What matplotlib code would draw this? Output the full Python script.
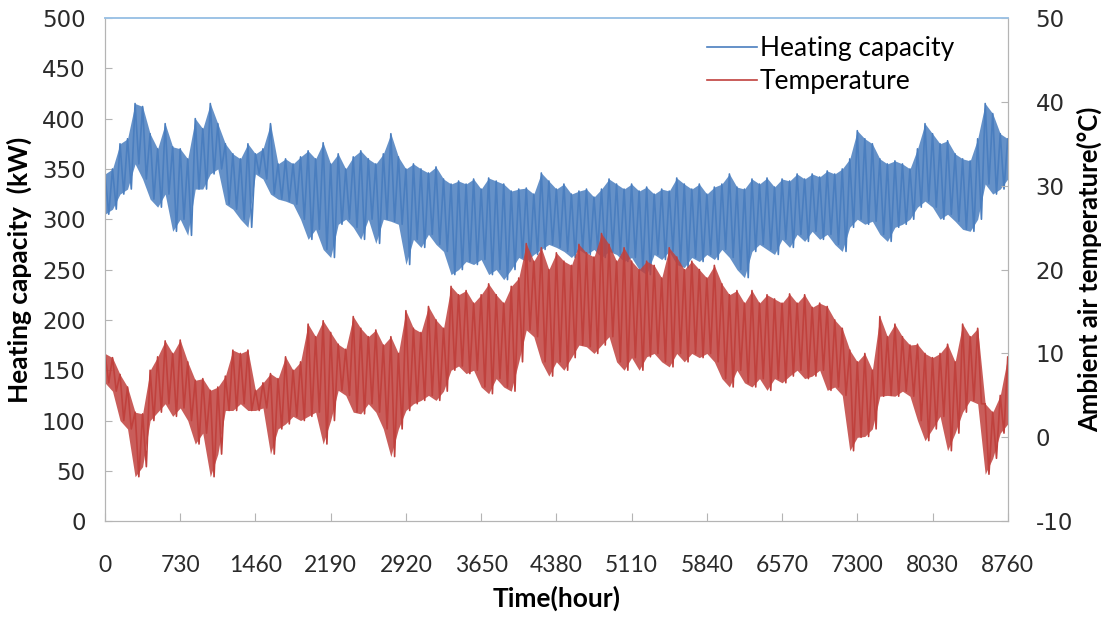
import numpy as np
import matplotlib.pyplot as plt

# sample hours (every 73 h) with the upper / lower envelope
hours = np.arange(0, 8761, 73)

cap_hi = [345, 350, 375, 380, 415, 412, 385, 370, 395, 372,
          370, 360, 400, 390, 415, 395, 375, 365, 360, 375,
          365, 370, 395, 355, 360, 355, 362, 368, 360, 376,
          355, 365, 350, 362, 368, 360, 355, 365, 385, 362,
          350, 355, 350, 346, 352, 340, 335, 338, 335, 340,
          330, 341, 338, 335, 328, 330, 331, 325, 346, 338,
          330, 335, 325, 328, 330, 322, 330, 340, 335, 330,
          335, 328, 332, 325, 330, 328, 341, 335, 330, 335,
          325, 332, 335, 345, 332, 330, 340, 335, 341, 332,
          340, 338, 345, 340, 345, 342, 348, 345, 350, 360,
          388, 380, 375, 360, 355, 358, 355, 350, 370, 395,
          385, 375, 378, 365, 360, 358, 380, 415, 405, 385, 380]
cap_lo = [305, 310, 325, 330, 355, 340, 320, 312, 325, 288,
          300, 284, 330, 330, 345, 350, 315, 310, 300, 292,
          345, 340, 325, 320, 318, 315, 300, 280, 290, 270,
          262, 295, 300, 292, 280, 300, 276, 300, 298, 295,
          255, 280, 272, 285, 275, 268, 245, 250, 258, 255,
          260, 245, 250, 240, 250, 262, 258, 265, 270, 275,
          272, 268, 262, 270, 265, 270, 262, 268, 265, 258,
          262, 250, 245, 265, 260, 268, 255, 252, 262, 258,
          265, 260, 270, 262, 250, 242, 268, 275, 270, 265,
          280, 272, 285, 278, 288, 280, 285, 275, 268, 292,
          300, 295, 298, 285, 278, 292, 295, 300, 312, 318,
          312, 300, 305, 298, 290, 288, 300, 335, 325, 330, 340]

temp_hi = [10, 9.5, 7.5, 6, 3, 2.8, 8, 9.6, 11.5, 10,
           11.6, 9, 6.8, 7, 5.6, 6, 7.3, 10.4, 10, 10.4,
           5.6, 6.5, 7.6, 7, 9.6, 8, 9, 13.5, 12, 13.9,
           12.5, 11.1, 10.5, 14.4, 13, 12, 12.8, 11, 12, 10,
           15.1, 13, 12.5, 15.6, 14, 13, 18, 17, 17.5, 16,
           17, 18.3, 17, 16, 18, 19, 23.1, 21, 22.6, 20,
           22, 21, 20.5, 23, 22, 21.5, 24.3, 23, 21, 22.6,
           21, 20, 21, 20.5, 19, 22.6, 21.5, 20, 21, 20,
           19, 20.5, 18.3, 17, 17.5, 16, 17.5, 16, 17, 16.5,
           16, 17.1, 16, 17, 15.5, 16, 15.6, 14, 13, 10.4,
           9, 10, 8, 14.4, 12, 13.5, 12, 11, 11.1, 10,
           9.5, 10, 11.1, 9, 13.5, 12, 13, 4, 3, 5, 9.6]
temp_lo = [6.5, 5.5, 2, 1, -4.7, -3.5, 2, 3, 4, 2.5,
           3.5, 2, -0.8, 0.5, -4.7, -2, 3.2, 3.2, 4, 3.2,
           3.2, 3.5, -2, 1, 1.6, 2.5, 2, 2.5, 3, -0.8,
           2, 5.6, 5, 3, 2.8, 4, 3, 1, -2.3, 1,
           3.2, 4, 4.4, 5, 4.4, 5.5, 8, 8.5, 7.6, 8,
           6, 5.2, 7, 6, 5.5, 9, 12.8, 12, 9, 7.3,
           9, 8, 9.5, 11, 10.8, 10, 11, 12, 9, 8,
           9.5, 8, 9.6, 10, 9, 8.4, 10, 9, 10, 9.5,
           10, 9, 7, 6, 8, 6.5, 6, 7, 5.6, 7,
           6.5, 7.3, 8, 7, 7.3, 8, 5.6, 6, 5, -1.6,
           0, 0.1, 1, 4.9, 5, 4.9, 5.5, 4.9, 2, -0.4,
           1, 2.5, -1.6, 0.5, 3, 4.4, 4, -4.4, -2.5, 0.5, 1.6]

xticks = np.arange(0, 8761, 730)

plt.rcParams['font.family'] = ['Lato', 'DejaVu Sans']
plt.rcParams['axes.unicode_minus'] = False

blue = '#4a7ebf'
red = '#c0413d'
grey = '#b4b4b4'
txt = '#2a2a2a'


def zigzag(t, hi, lo):
    # alternate each high reading with the following low reading
    x = np.column_stack([t, t + 36.5]).ravel()
    y = np.column_stack([hi, lo]).ravel()
    return x, y


fig = plt.figure(figsize=(11.05, 6.19), dpi=100)
ax = fig.add_axes([0.095, 0.158, 0.817, 0.813])
ax2 = ax.twinx()

x1, y1 = zigzag(hours, cap_hi, cap_lo)
x2, y2 = zigzag(hours, temp_hi, temp_lo)
ax.fill_between(hours, cap_lo, cap_hi, color=blue, alpha=0.85, lw=0)
l1, = ax.plot(x1, y1, color=blue, lw=1.2, label='Heating capacity')
ax2.fill_between(hours, temp_lo, temp_hi, color=red, alpha=0.85, lw=0)
l2, = ax2.plot(x2, y2, color=red, lw=1.2, label='Temperature')

ax.set_xlim(0, 8760)
ax.set_ylim(0, 500)
ax2.set_ylim(-10, 50)
ax.set_xticks(xticks)
ax.set_yticks(np.arange(0, 501, 50))
ax2.set_yticks(np.arange(-10, 51, 10))

for a in (ax, ax2):
    for s in a.spines.values():
        s.set_color(grey)
    a.spines['top'].set_color('#9dc3e6')
    a.spines['top'].set_linewidth(1.2)

ax.tick_params(axis='y', direction='in', length=5, color=grey, pad=14, labelcolor=txt)
ax.tick_params(axis='x', direction='in', length=6, color=grey, pad=24, labelsize=16.5, labelcolor=txt)
ax2.tick_params(axis='y', direction='in', length=5, color=grey, pad=20, labelcolor=txt)
for lab in ax.get_yticklabels() + ax2.get_yticklabels():
    lab.set_fontfamily('DejaVu Sans')
    lab.set_fontsize(16.5)

ax.set_ylabel('Heating capacity  (kW)', fontsize=19, fontweight='bold')
ax.yaxis.set_label_coords(-0.081, 0.5)
ax2.set_ylabel('Ambient air temperature(°C)', fontsize=18.5, fontweight='bold')
ax2.yaxis.set_label_coords(1.077, 0.5)
ax.set_xlabel('Time(hour)', fontsize=19, fontweight='bold')
ax.xaxis.set_label_coords(0.5, -0.128)

ax2.legend(handles=[l1, l2], loc='upper left', bbox_to_anchor=(0.655, 0.985),
           frameon=False, fontsize=19, handlelength=1.9, handletextpad=0.1,
           labelspacing=0.3, borderaxespad=0)

fig.savefig('out.png', dpi=100)
